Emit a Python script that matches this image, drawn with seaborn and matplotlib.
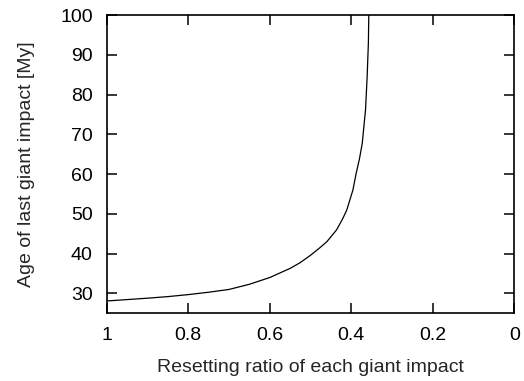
import pandas as pd
import seaborn as sns
import matplotlib
matplotlib.use('Agg')
import matplotlib.pyplot as plt

# values
ratio = [1.0, 0.95, 0.9, 0.85, 0.8, 0.75, 0.7, 0.65, 0.6, 0.55, 0.526,
         0.5, 0.477, 0.46, 0.436, 0.421, 0.411, 0.396, 0.388, 0.38, 0.373,
         0.369, 0.365, 0.361, 0.358, 0.357]
age = [28.1, 28.45, 28.8, 29.2, 29.7, 30.3, 31.0, 32.3, 34.0, 36.3, 37.7,
       39.6, 41.5, 43.0, 46.0, 48.8, 51.0, 56.0, 60.2, 63.8, 67.8, 72.0,
       76.2, 84.6, 93.0, 100.0]
x_ticks = [1, 0.8, 0.6, 0.4, 0.2, 0]
x_labels = ['1', '0.8', '0.6', '0.4', '0.2', '0']
y_ticks = [30, 40, 50, 60, 70, 80, 90, 100]

sns.set_style('ticks')
plt.rcParams['font.family'] = ['Liberation Sans', 'DejaVu Sans']


def main():
    df = pd.DataFrame({'ratio': ratio, 'age': age})
    fig = plt.figure(figsize=(5.24, 3.81), dpi=100)
    ax = fig.add_axes([0.2036, 0.1777, 0.7779, 0.7823])
    sns.lineplot(x='ratio', y='age', data=df, ax=ax, color='black',
                 linewidth=0.9, sort=False)
    ax.set_xlim(1, 0)
    ax.set_ylim(25, 100)
    ax.set_xticks(x_ticks)
    ax.set_xticklabels(x_labels)
    ax.set_yticks(y_ticks)
    ax.tick_params(direction='in', length=7, width=1.1, labelsize=14,
                   top=True, right=True, colors='black')
    ax.tick_params(axis='x', pad=10)
    ax.tick_params(axis='y', pad=10)
    for s in ax.spines.values():
        s.set_linewidth(1.2)
        s.set_color('black')
    ax.set_xlabel('Resetting ratio of each giant impact', fontsize=14,
                  labelpad=11)
    ax.set_ylabel('Age of last giant impact [My]', fontsize=14,
                  labelpad=18)
    fig.savefig('out.png', dpi=100)


if __name__ == '__main__':
    main()
